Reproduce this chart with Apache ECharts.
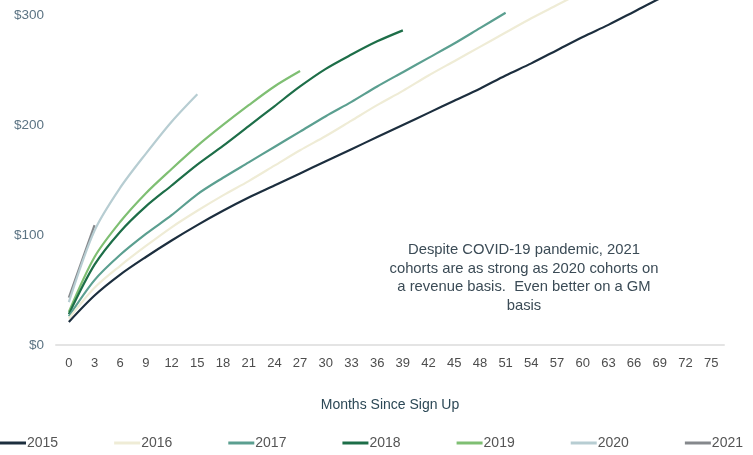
<!DOCTYPE html>
<html>
<head>
<meta charset="utf-8">
<script src="https://cdn.jsdelivr.net/npm/echarts@6/dist/echarts.min.js"></script>
<style>
  html, body { margin: 0; padding: 0; background: #fff; }
  #chart { width: 753px; height: 455px; }
</style>
</head>
<body>
<div id="chart"></div>
<script>
// months since sign up (x axis categories)
const months = ['0', '3', '6', '9', '12', '15', '18', '21', '24', '27', '30', '33', '36',
  '39', '42', '45', '48', '51', '54', '57', '60', '63', '66', '69', '72', '75']

// cumulative revenue per cohort, one value every 3 months
const c2015 = [21, 45, 64, 80, 95, 109, 122, 134, 145, 156, 167, 178, 189, 200, 211, 222, 233, 245, 256, 268, 280, 291, 303, 315, 326]
const c2016 = [24, 52, 72, 90, 107, 122, 136, 149, 163, 177, 190, 204, 218, 231, 245, 258, 271, 284, 297, 309, 321]
const c2017 = [26, 59, 82, 101, 118, 137, 152, 166, 180, 194, 208, 221, 235, 248, 261, 274, 288, 302]
const c2018 = [28, 73, 103, 126, 145, 164, 181, 199, 217, 235, 251, 264, 276, 286]
const c2019 = [30, 80, 112, 138, 160, 181, 200, 218, 235, 249]
const c2020 = [39, 104, 143, 174, 203, 228]
const c2021 = [43, 109]

const cohorts = ['2015', '2016', '2017', '2018', '2019', '2020', '2021']
const cohortData = [c2015, c2016, c2017, c2018, c2019, c2020, c2021]
const colors = ['#1c2e3e', '#efecd6', '#5b9f90', '#1d6e48', '#7fbf73', '#b7cdd2', '#85888c']

const sans = "'Liberation Sans', Arial, sans-serif"
const chart = echarts.init(document.getElementById('chart'))

const option = {
  animation: false,
  color: colors,
  // y max sits exactly on the top edge, so the long cohorts run off the top like the original crop
  grid: { left: 56, right: 29, top: 0, bottom: 110 },
  xAxis: {
    type: 'category',
    data: months,
    boundaryGap: true,
    name: 'Months Since Sign Up',
    nameLocation: 'middle',
    nameGap: 53,
    nameTextStyle: { color: '#2c4856', fontSize: 14, fontFamily: sans },
    axisLine: { lineStyle: { color: '#e4e4e4', width: 2 } },
    axisTick: { show: false },
    axisLabel: { color: '#4d4d4d', fontSize: 13, fontFamily: sans, margin: 12, interval: 0 }
  },
  yAxis: {
    type: 'value',
    min: 0,
    max: 313.6,
    interval: 100,
    axisLine: { show: false },
    axisTick: { show: false },
    splitLine: { show: false },
    axisLabel: {
      color: '#5b7383',
      fontSize: 13.5,
      fontFamily: sans,
      margin: 12,
      showMaxLabel: false,
      formatter: v => (v % 100 === 0 ? '$' + v : '')
    }
  },
  legend: {
    left: 0,
    top: 436,
    padding: 0,
    itemWidth: 26,
    itemHeight: 3,
    itemGap: 56,
    icon: 'rect',
    textStyle: { color: '#555', fontSize: 14, fontFamily: sans, padding: [0, 0, 0, -4] },
    data: cohorts
  },
  graphic: [{
    type: 'text',
    x: 524,
    y: 241,
    style: {
      text: 'Despite COVID-19 pandemic, 2021\ncohorts are as strong as 2020 cohorts on\na revenue basis.  Even better on a GM\nbasis',
      textAlign: 'center',
      fill: '#3b4b56',
      fontSize: 14.8,
      lineHeight: 18.5,
      fontFamily: sans
    }
  }],
  series: cohorts.map((name, i) => ({
    name: name,
    type: 'line',
    data: cohortData[i],
    smooth: 0.3,
    symbol: 'none',
    lineStyle: { width: 2.2, color: colors[i] },
    z: 10 - i
  }))
}

chart.setOption(option)
</script>
</body>
</html>
